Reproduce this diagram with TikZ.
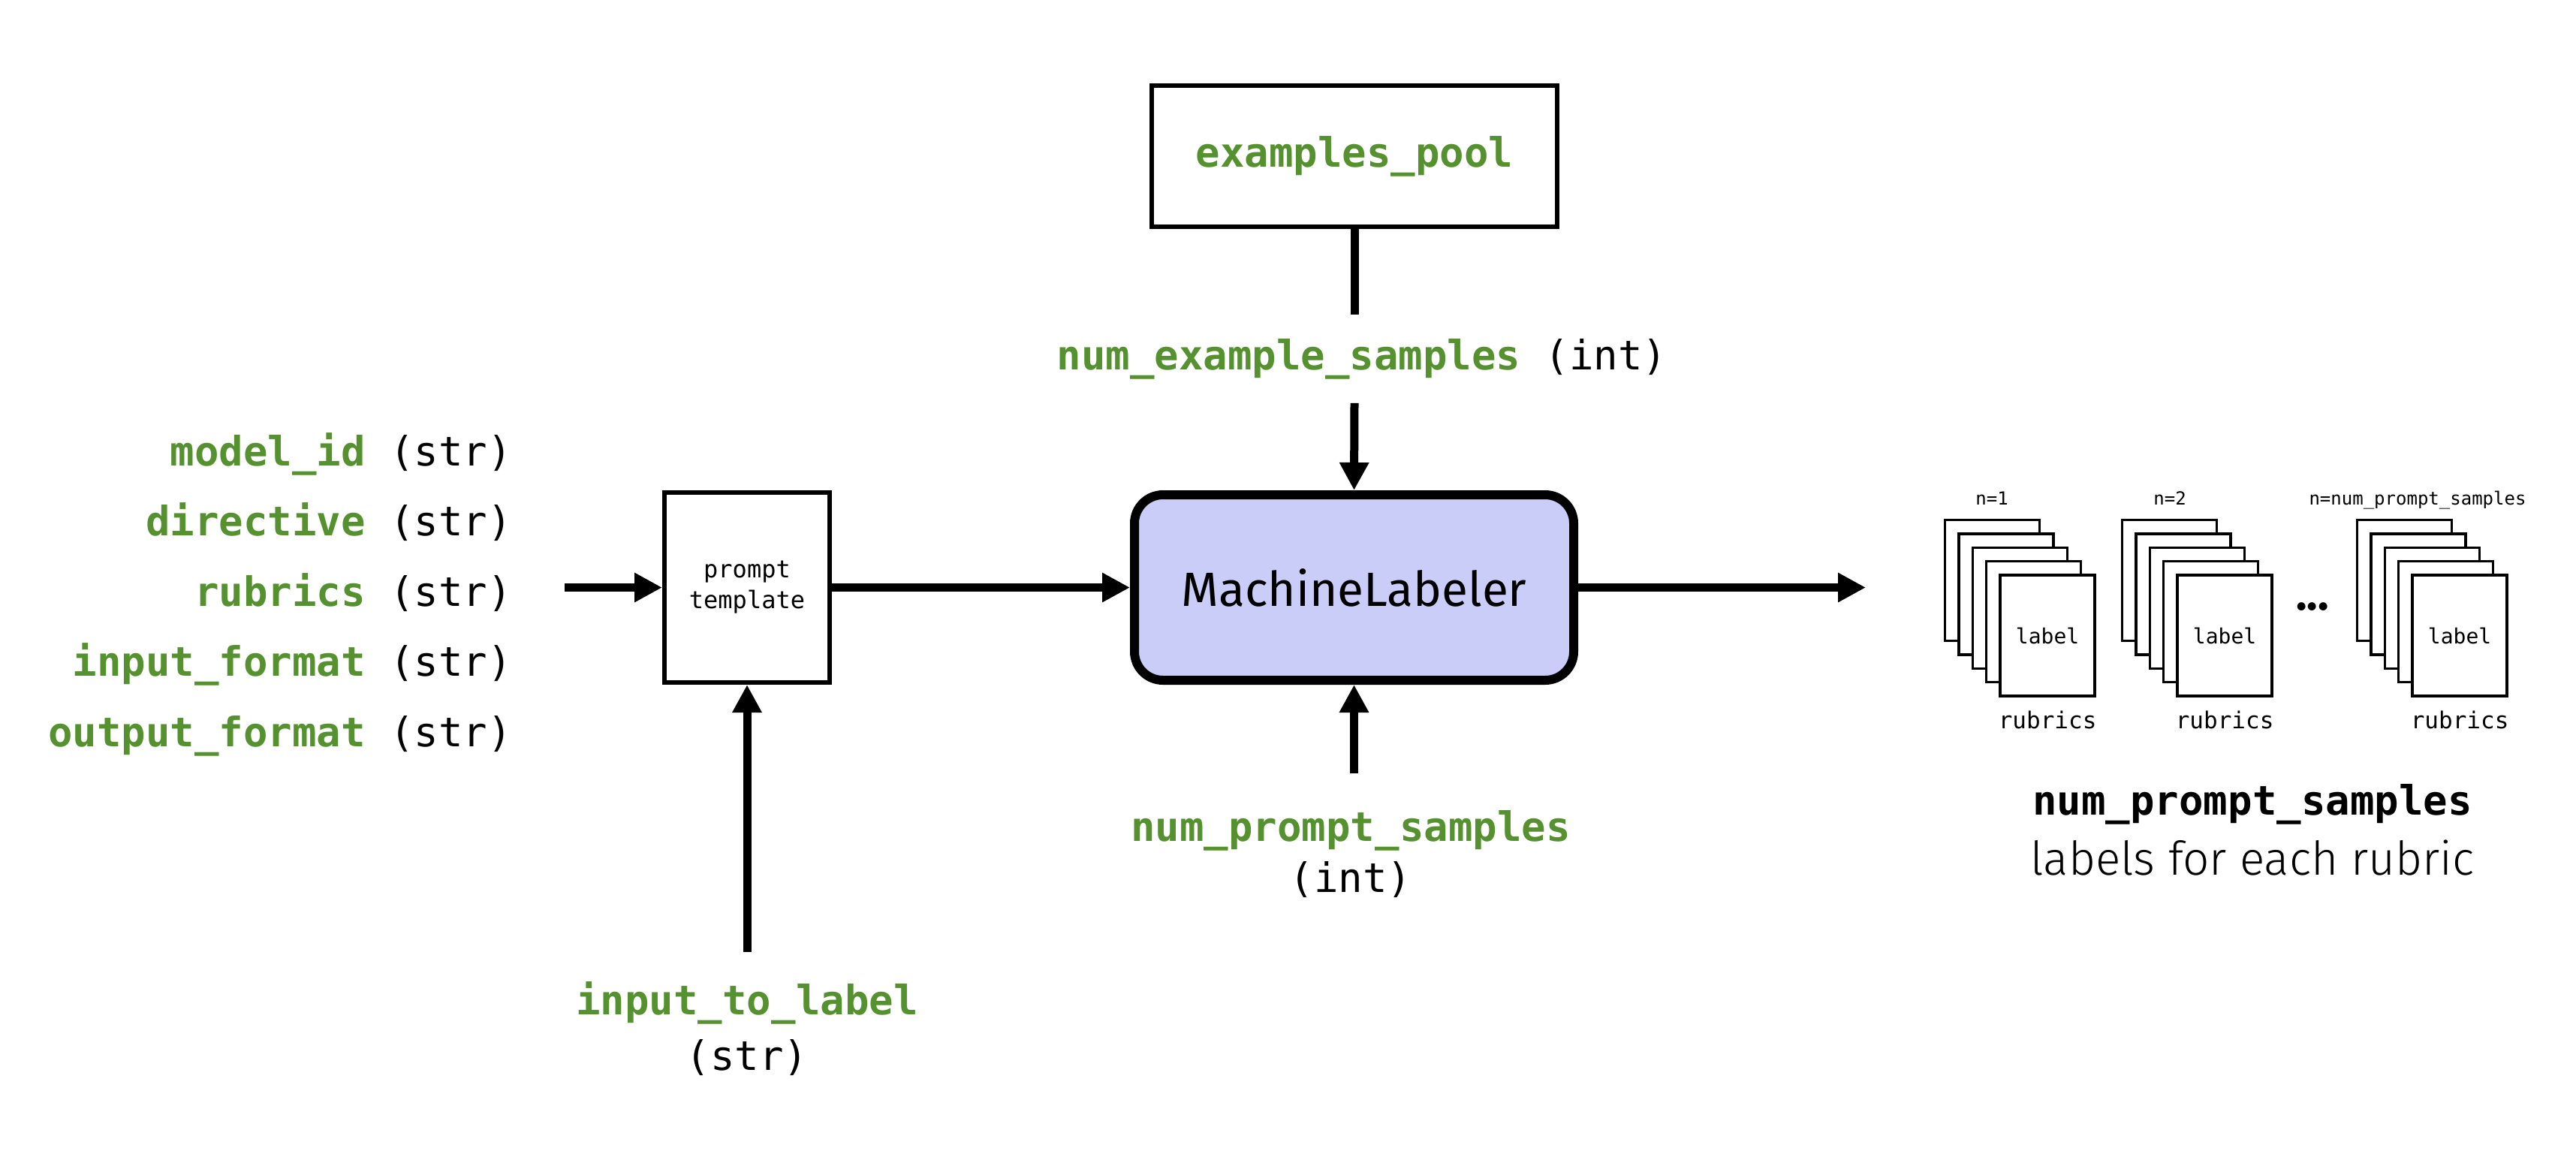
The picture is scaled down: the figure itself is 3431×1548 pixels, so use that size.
\documentclass[tikz,border=0pt]{standalone}
\usepackage{fontspec}
\setmainfont{Fira Sans}
\setsansfont{Fira Sans}
\setmonofont{DejaVu Sans Mono}
\newfontfamily\lightsans{Fira Sans Light}
\usetikzlibrary{arrows.meta,positioning}
\definecolor{argc}{HTML}{55912F}
\definecolor{mlfill}{HTML}{C9CDF8}
\tikzset{
  >={Triangle[length=37pt,width=37pt]},
  arr/.style={->,line width=11pt},
  lnk/.style={line width=11pt},
  argl/.style={anchor=base east,font=\fontsize{54}{65}\selectfont\ttfamily},
  argc/.style={anchor=base,font=\fontsize{54}{65}\selectfont\ttfamily},
  tbox/.style={draw,line width=6pt,fill=white,inner sep=0pt,align=center},
  mlbox/.style={draw,line width=12pt,fill=mlfill,rounded corners=38pt,inner sep=0pt,
    minimum width=585pt,minimum height=247pt,font=\fontsize{64}{77}\selectfont\sffamily},
  page/.style={draw,line width=3.5pt,fill=white,inner sep=0pt,minimum width=126pt,minimum height=161pt,
    font=\fontsize{28}{34}\selectfont\ttfamily},
  small/.style={anchor=base,font=\fontsize{24}{29}\selectfont\ttfamily},
  rub/.style={anchor=base,font=\fontsize{31}{37}\selectfont\ttfamily},
}
\begin{document}
\begin{tikzpicture}[x=1pt,y=-1pt,every node/.style={inner sep=0pt}]
\useasboundingbox (0,0) rectangle (3431,1548);
\fill[white] (0,0) rectangle (3431,1548);

% inputs on the left
\foreach \a [count=\i] in {model\_id,directive,rubrics,input\_format,output\_format}
  \node[argl] (in\i) at (682,526.5+93.5*\i) {\textcolor{argc}{\bfseries\a} (str)};

% main boxes
\node[tbox,minimum width=220pt,minimum height=253pt,font=\fontsize{32}{41}\selectfont\ttfamily] (tmpl) at (995,782.5) {prompt\\template};
\node[tbox,minimum width=540pt,minimum height=188pt,font=\fontsize{54}{65}\selectfont\ttfamily] (pool) at (1804,208) {\textcolor{argc}{\bfseries examples\_pool}};
\node[mlbox] (ml) at (1803.5,782.5) {MachineLabeler};

% parameters
\node[argc,inner ysep=32pt] (nes) at (1814,492) {\textcolor{argc}{\bfseries num\_example\_samples} (int)};
\node[argc,inner ysep=49pt] (nps) at (1799,1120) {\textcolor{argc}{\bfseries num\_prompt\_samples}};
\node[argc] (npst) at (1799,1188) {(int)};
\node[argc,inner ysep=39pt] (itl) at (995,1351) {\textcolor{argc}{\bfseries input\_to\_label}};
\node[argc] (itlt) at (995,1425) {(str)};

% connectors
\coordinate (tin) at (752,782.5);
\coordinate (tout) at (2485,782.5);
\draw[arr] (tin) -- (tmpl.west);
\draw[arr] (tmpl.east) -- (ml.west);
\draw[arr] (ml.east) -- (tout);
\draw[arr] (itl.north) -- (tmpl.south);
\draw[lnk] (pool.south) -- (pool.south |- nes.north);
\draw[arr] (pool.south |- nes.south) -- (ml.north);
\draw[arr] (ml.south |- nps.north) -- (ml.south);

% output stacks
\foreach \x/\n/\nx [count=\s] in {2589/1/2653,2825/2/2890,3138/num\_prompt\_samples/3220}{
  \foreach \k in {0,...,3}
    \node[page] (pg\s-\k) at (\x+64.5+18.4*\k,773+18.4*\k) {};
  \node[page] (pg\s-4) at (\x+138.1,846.6) {label};
  \node[rub] (rub\s) at (\x+138.1,970) {rubrics};
  \node[small] (n\s) at (\nx,672) {n=\n};
}
\node[font=\fontsize{60}{60}\selectfont\sffamily\bfseries] (dots) at (3080,808) {...};

\node[argc] (nps2) at (3000,1085) {\bfseries num\_prompt\_samples};
\node[anchor=base,font=\fontsize{62}{74}\selectfont\lightsans] (lfer) at (3000,1165) {labels for each rubric};
\end{tikzpicture}
\end{document}
